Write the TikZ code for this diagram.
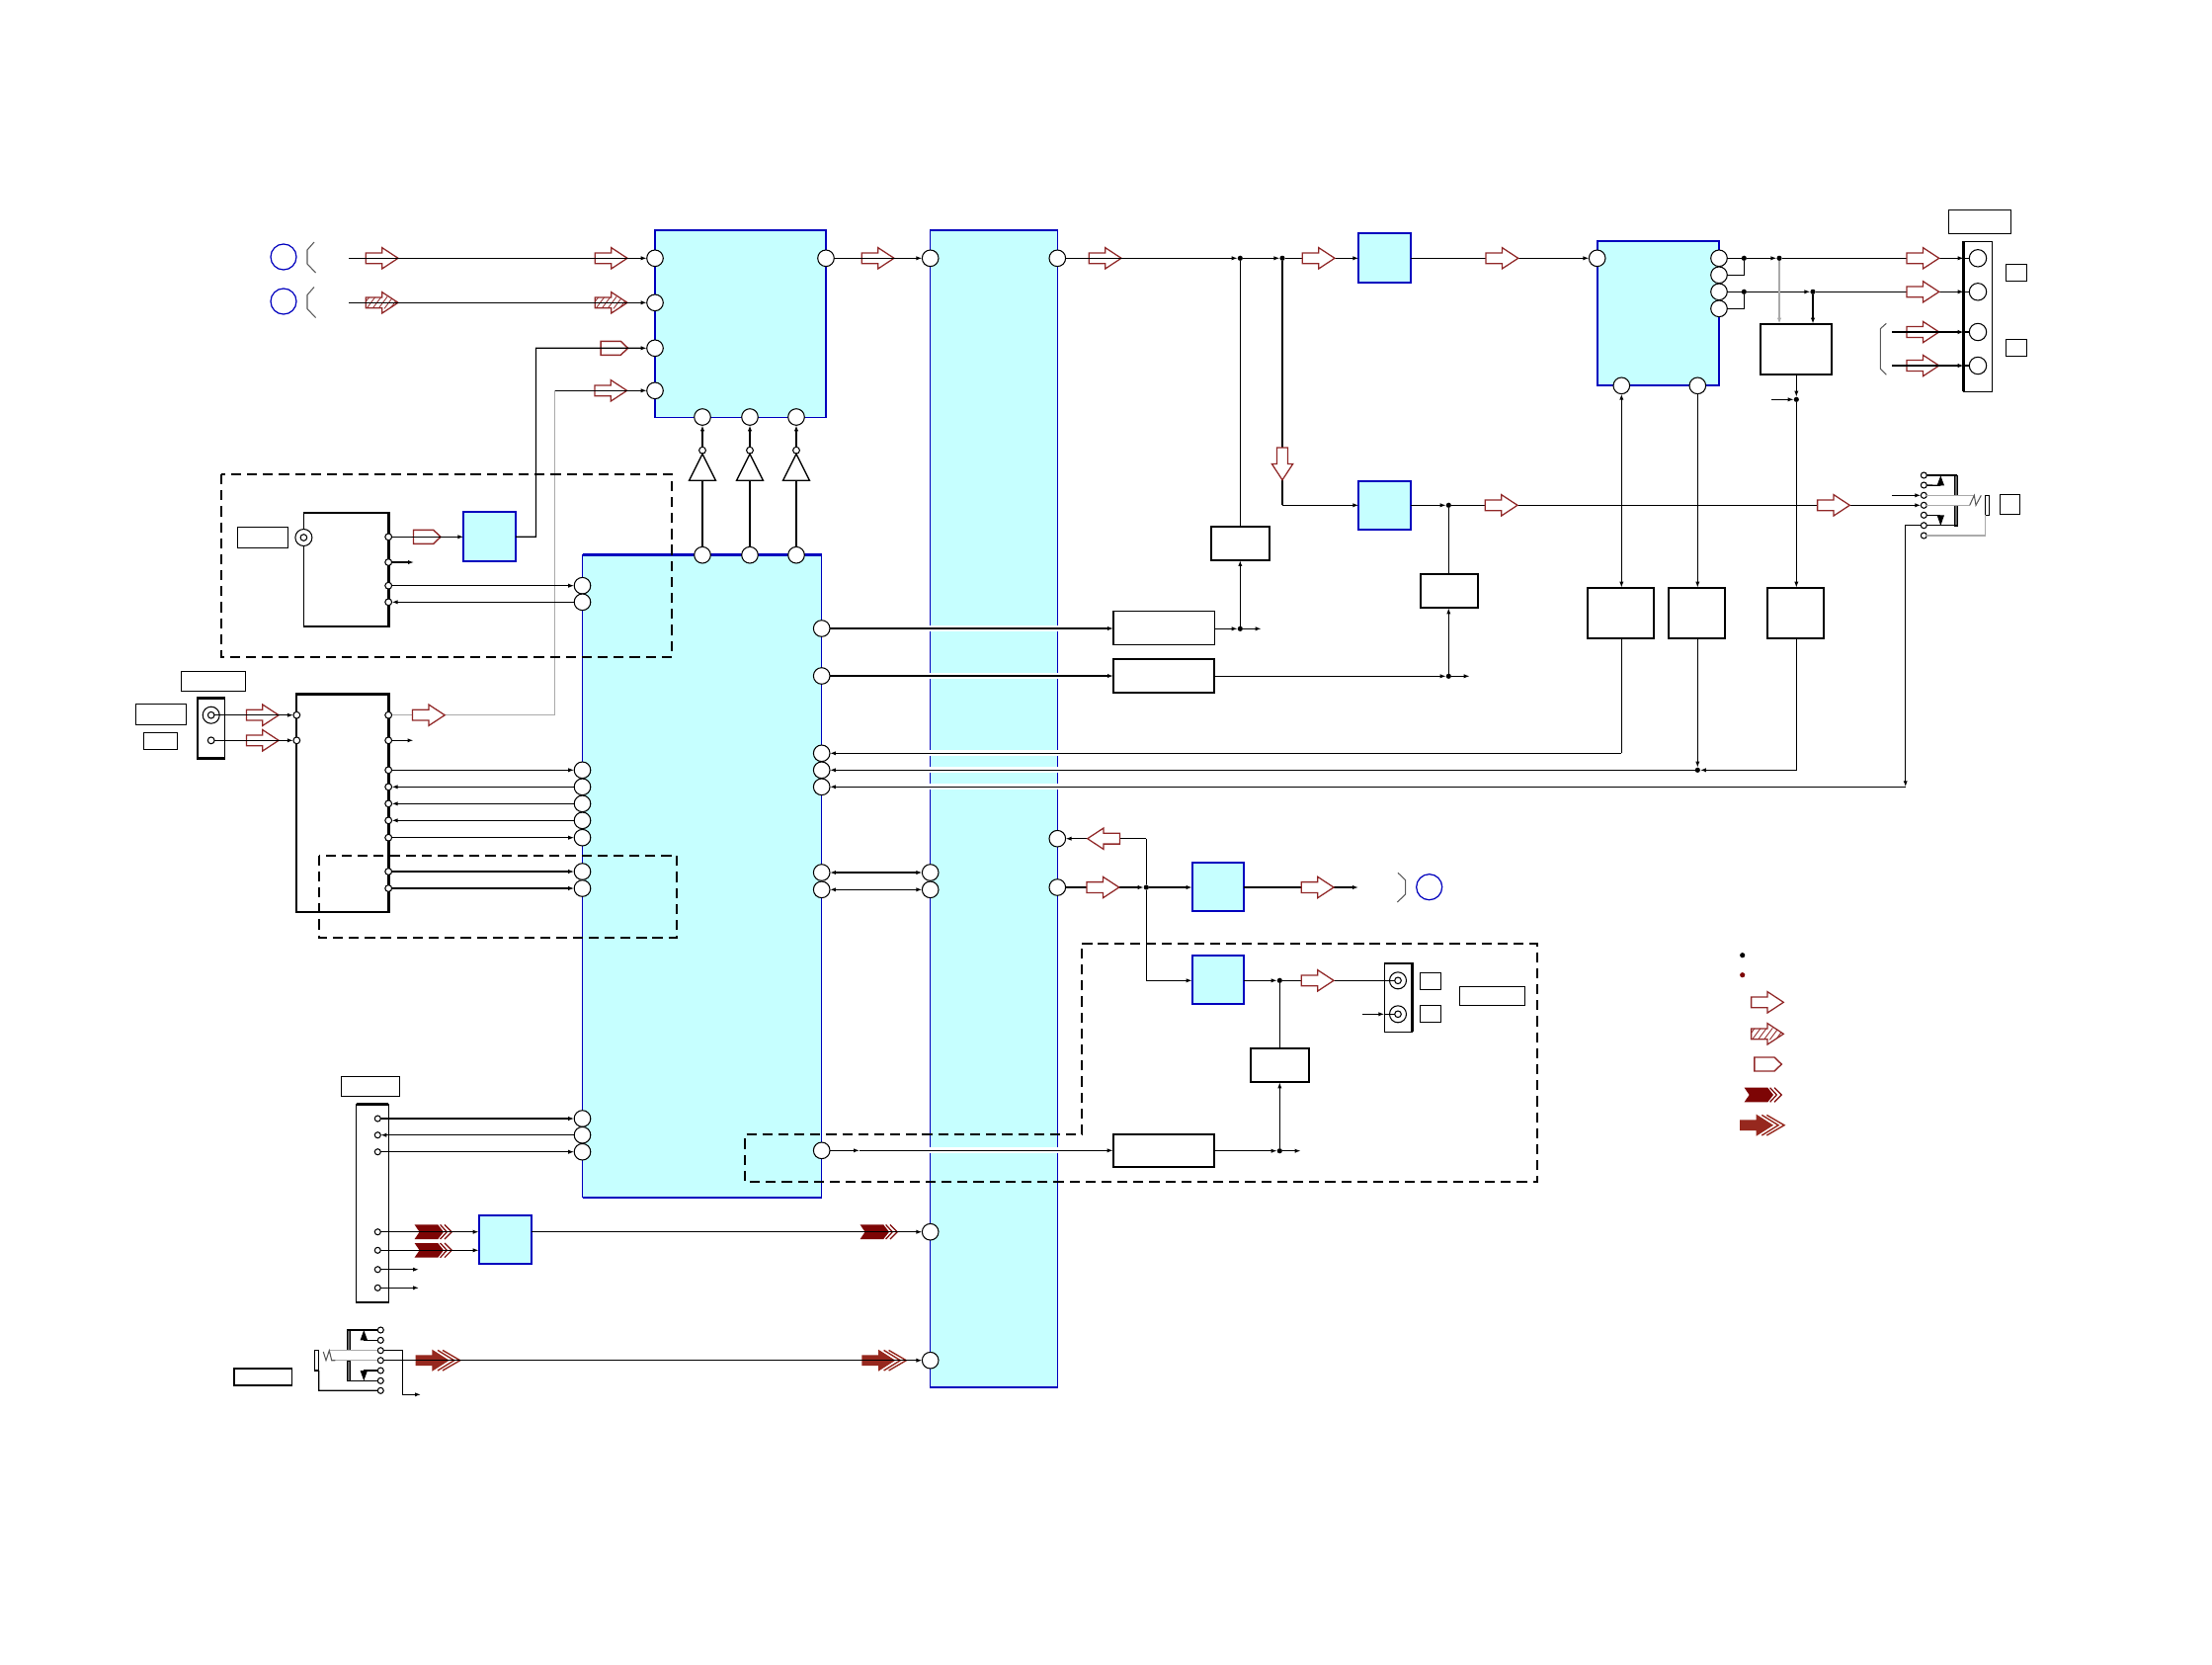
\documentclass[tikz,border=0pt]{standalone}
\usetikzlibrary{arrows.meta,calc}
\definecolor{iccyan}{RGB}{198,255,255}
\definecolor{icblue}{RGB}{0,0,190}
\definecolor{arrred}{RGB}{145,40,40}
\definecolor{chevred}{RGB}{125,5,5}
\definecolor{bigred}{RGB}{150,40,30}
\definecolor{wgray}{RGB}{170,170,170}
\newcommand{\rbox}[6]{%
  \pgfmathsetmacro\rbcx{(#2+#4)/2}\pgfmathsetmacro\rbcy{(#3+#5)/2}%
  \pgfmathsetmacro\rbw{(#4-#2)*0.01}\pgfmathsetmacro\rbh{(#5-#3)*0.01}%
  \node[#6,minimum width=\rbw cm,minimum height=\rbh cm,inner sep=0pt,outer sep=0pt] (#1) at (\rbcx,\rbcy) {};}
\tikzset{
  icbox/.style={rectangle,draw=icblue,fill=iccyan,line width=.4pt},
  bluebox/.style={rectangle,draw=icblue,fill=iccyan,line width=.55pt},
  blk/.style={rectangle,draw=black,fill=white,line width=.6pt},
  labelbox/.style={rectangle,draw=black,fill=white,line width=.35pt},
  connbox/.style={rectangle,draw=black,fill=white,line width=.35pt},
  heavy/.style={draw=black,line width=.75pt},
  heavyblue/.style={draw=icblue,line width=.7pt},
  icpin/.style={circle,draw=black,fill=white,line width=.3pt,minimum size=.166cm,inner sep=0pt,outer sep=0pt},
  tinypin/.style={circle,draw=black,fill=white,line width=.3pt,minimum size=.068cm,inner sep=0pt,outer sep=0pt},
  jackpin/.style={circle,draw=black,fill=white,line width=.3pt,minimum size=.06cm,inner sep=0pt,outer sep=0pt},
  bigpin/.style={circle,draw=black,fill=white,line width=.3pt,minimum size=.174cm,inner sep=0pt,outer sep=0pt},
  jdot/.style={circle,fill=black,minimum size=.052cm,inner sep=0pt,outer sep=0pt},
  bluering/.style={circle,draw=icblue,line width=.35pt,minimum size=.26cm,inner sep=0pt},
  ringouter/.style={circle,draw=black,fill=white,line width=.3pt,minimum size=.17cm,inner sep=0pt,outer sep=0pt},
  ringinner/.style={circle,draw=black,fill=white,line width=.3pt,minimum size=.066cm,inner sep=0pt,outer sep=0pt},
  wire/.style={draw=black,line width=.38pt},
  sig/.style={wire,-{Latex[length=1.7pt,width=1.2pt]}},
  sigboth/.style={wire,{Latex[length=1.7pt,width=1.2pt]}-{Latex[length=1.7pt,width=1.2pt]}},
  graywire/.style={draw=wgray,line width=.38pt},
  brk/.style={draw=black!65,line width=.3pt},
  dashbox/.style={draw=black,line width=.6pt,dash pattern=on 2.9pt off 1.7pt},
  pics/hollow/.style={code={
    \draw[arrred,fill=white,line width=.36pt] (-32.7,-5.4)--(-16.3,-5.4)--(-16.3,-10.7)--(0,0)--(-16.3,10.7)--(-16.3,5.4)--(-32.7,5.4)--cycle;}},
  pics/hatched/.style={code={
    \draw[arrred,fill=white,line width=.36pt] (-32.7,-5.4)--(-16.3,-5.4)--(-16.3,-10.7)--(0,0)--(-16.3,10.7)--(-16.3,5.4)--(-32.7,5.4)--cycle;
    \begin{scope}
      \clip (-32.7,-5.4)--(-16.3,-5.4)--(-16.3,-10.7)--(0,0)--(-16.3,10.7)--(-16.3,5.4)--(-32.7,5.4)--cycle;
      \foreach \k in {-38,-32,-26,-20,-14,-8}
        \draw[arrred,line width=.25pt] (\k,6)--(\k+9,-6);
    \end{scope}}},
  pics/pent/.style={code={
    \draw[arrred,fill=white,line width=.4pt] (-27.5,-7)--(-7.3,-7)--(0,0)--(-7.3,7)--(-27.5,7)--cycle;}},
  pics/chev/.style={code={
    \fill[chevred] (-37.7,-7.3)--(-14,-7.3)--(-8.3,0)--(-14,7.3)--(-37.7,7.3)--(-32.7,0)--cycle;
    \draw[chevred,line width=.35pt] (-11.7,-7.3)--(-5,0)--(-11.7,7.3) (-7.3,-7.3)--(0,0)--(-7.3,7.3);}},
  pics/bigarr/.style={code={
    \fill[bigred] (-45,-5.3)--(-28.3,-5.3)--(-28.3,-11)--(-11,0)--(-28.3,11)--(-28.3,5.3)--(-45,5.3)--cycle;
    \draw[bigred,line width=.4pt] (-22.7,-10.3)--(-6,0)--(-22.7,10.3) (-17.7,-10.3)--(0,0)--(-17.7,10.3);}}
}
\begin{document}
\begin{tikzpicture}[x=0.01cm,y=-0.01cm]
\useasboundingbox (0,0) rectangle (2239,1684);
\fill[white] (0,0) rectangle (2239,1684);

% large ICs
\rbox{icA}{663}{233}{836}{422.3}{icbox}
\rbox{icB}{589.5}{561.7}{831.7}{1211.7}{icbox}
\rbox{icC}{941.7}{233}{1070.3}{1404}{icbox}
\rbox{icD}{1616.7}{244}{1740.3}{390.3}{bluebox}
\draw[heavyblue] (icB.north west)--(icB.north east);
\draw[heavyblue] (icB.south west)--(icB.south east);
\draw[heavyblue] (icC.south west)--(icC.south east);
\draw[heavyblue] (icA.north west)--(icA.south west);
% white bands across icC
\foreach \y in {636,684,762.3,779.3,796.3,1164.3}
  \fill[white] (940,\y-3) rectangle (1072,\y+3);

% small blue boxes
\rbox{bbA}{469.3}{518.3}{522}{568}{bluebox}
\rbox{bbB}{1375.3}{235.7}{1428.3}{286}{bluebox}
\rbox{bbC}{1375.3}{486.7}{1428.3}{536}{bluebox}
\rbox{bbD}{1206.7}{872.7}{1259.3}{922.3}{bluebox}
\rbox{bbE}{1206.7}{966.7}{1259.3}{1016.3}{bluebox}
\rbox{bbF}{484.7}{1229.7}{538.3}{1279.3}{bluebox}

% white blocks
\rbox{wA}{1225.7}{533}{1285.3}{567}{blk}
\rbox{wB}{1127}{618.3}{1229.3}{652.3}{labelbox}
\rbox{wC}{1127}{666.7}{1229.3}{701}{blk}
\rbox{wD}{1437.7}{580.7}{1496.3}{615.3}{blk}
\rbox{wE}{1782}{327.7}{1854}{379}{blk}
\rbox{wF}{1606.7}{594.7}{1674.3}{646}{blk}
\rbox{wG}{1689}{594.7}{1746.3}{646}{blk}
\rbox{wH}{1789}{594.7}{1846.3}{646}{blk}
\rbox{wI}{1265.7}{1061.3}{1325.3}{1095.3}{blk}
\rbox{wJ}{1126.7}{1147.7}{1229.3}{1181.3}{blk}

% modules and connectors
\rbox{modA}{307.4}{519}{393.2}{634}{connbox}
\draw[heavy] (modA.north west)--(modA.north east)--(modA.south east)--(modA.south west);
\rbox{modB}{300}{702.7}{393.2}{923}{blk}
\draw[heavy] (modB.north west) rectangle (modB.south east);
\rbox{cnA}{199.9}{706.7}{227.5}{767.3}{connbox}
\draw[heavy] (cnA.north east)--(cnA.north west)--(cnA.south west)--(cnA.south east);
\rbox{cnB}{360.7}{1117.7}{393.3}{1318}{connbox}
\draw[line width=.45pt] (cnB.north west) rectangle (cnB.south east);
\draw[heavy] (cnB.north west)--(cnB.north east) (cnB.south west)--(cnB.south east);
\rbox{cnC}{1987.7}{244.3}{2016.3}{396.3}{connbox}
\draw[heavy] (cnC.north west)--(cnC.south west);
\rbox{cnD}{1401.3}{975}{1429.3}{1044.3}{connbox}
\draw[heavy] (cnD.north west)--(cnD.north east)--(cnD.south east);

% label boxes
\rbox{lA}{240.5}{533.3}{291.4}{554.3}{labelbox}
\rbox{lB}{183.3}{679.3}{248.5}{699.3}{labelbox}
\rbox{lC}{137.4}{712.3}{188.4}{733.3}{labelbox}
\rbox{lD}{145.3}{741.3}{179.7}{758.7}{labelbox}
\rbox{lE}{345.3}{1089.3}{404.3}{1109.3}{labelbox}
\rbox{lF}{237}{1385}{295.6}{1402}{labelbox}
\rbox{lG}{1972.7}{212.7}{2035.3}{236.3}{labelbox}
\rbox{lH}{2030.3}{267.3}{2051.7}{284.3}{labelbox}
\rbox{lI}{2030.3}{343.3}{2051.7}{360.3}{labelbox}
\rbox{lJ}{2024.3}{500.3}{2044.3}{520.3}{labelbox}
\rbox{lK}{1437.3}{984.3}{1458.3}{1001.7}{labelbox}
\rbox{lL}{1437.3}{1017.3}{1458.3}{1034.3}{labelbox}
\rbox{lM}{1477.3}{998.3}{1543.3}{1017.3}{labelbox}

% IC pins
\foreach \n/\x/\y in {a1/663/261.3,a2/663/306.3,a3/663/352.3,a4/663/395.3,a5/836/261.3,a6/711/422,a7/759/422,a8/806/422,
  bt1/711/561.7,bt2/759/561.7,bt3/806/561.7,
  bl1/589.5/592.7,bl2/589.5/609.3,bl3/589.5/779.3,bl4/589.5/796.3,bl5/589.5/813.3,bl6/589.5/830.3,bl7/589.5/847.7,bl8/589.5/882,bl9/589.5/899,
  bl10/589.5/1132,bl11/589.5/1148.7,bl12/589.5/1165.7,
  br1/831.7/636,br2/831.7/684,br3/831.7/762.3,br4/831.7/779.3,br5/831.7/796.3,br6/831.7/883,br7/831.7/900.3,br8/831.7/1164.3,
  cl1/941.7/261.3,cl2/941.7/883,cl3/941.7/900.3,cl4/941.7/1246.7,cl5/941.7/1376.7,
  cr1/1070.3/261.3,cr2/1070.3/848.7,cr3/1070.3/898,
  dl/1616.7/261.3,dr1/1740/261.3,dr2/1740/278.3,dr3/1740/295.3,dr4/1740/312.3,db1/1641.3/390.3,db2/1718.3/390.3}
  \node[icpin] (\n) at (\x,\y) {};
\foreach \n/\x/\y in {c1/2002/261.3,c2/2002/295.3,c3/2002/336,c4/2002/370}
  \node[bigpin] (\n) at (\x,\y) {};
% tiny pins on modules
\foreach \n/\x/\y in {ma1/393.2/543.3,ma2/393.2/569,ma3/393.2/592.7,ma4/393.2/609.3,
  mi1/300.3/723.7,mi2/300.3/749.3,
  mb1/393.2/723.7,mb2/393.2/749.3,mb3/393.2/779.3,mb4/393.2/796.3,mb5/393.2/813.3,mb6/393.2/830.3,mb7/393.2/847.7,mb8/393.2/882,mb9/393.2/899,
  ca2/213.7/749.3,tr1/711/455.7,tr2/759/455.7,tr3/806/455.7}
  \node[tinypin] (\n) at (\x,\y) {};
\foreach \n/\x/\y in {cb1/382.3/1132,cb2/382.3/1148.7,cb3/382.3/1165.7,cb4/382.3/1246.7,cb5/382.3/1265.3,cb6/382.3/1284.7,cb7/382.3/1303.3,
  jl1/385.3/1346,jl2/385.3/1356.3,jl3/385.3/1366.7,jl4/385.3/1376.7,jl5/385.3/1387,jl6/385.3/1397.3,jl7/385.3/1407.3,
  jr1/1947.3/481,jr2/1947.3/491,jr3/1947.3/501.3,jr4/1947.3/511.3,jr5/1947.3/521.3,jr6/1947.3/531.7,jr7/1947.3/542}
  \node[jackpin] (\n) at (\x,\y) {};
% round sockets
\foreach \n/\x/\y in {sa/307.4/544,sb/213.7/723.7,sc/1415/992.3,sd/1415/1026.3}{
  \node[ringouter] (\n) at (\x,\y) {};
  \node[ringinner] (\n i) at (\x,\y) {};}
% junction dots
\foreach \n/\x/\y in {dA/1255.3/261.3,dB/1298/261.3,dC/1255.3/636.3,dD/1466.3/511.3,dE/1466.3/684.3,dF/1765.3/261.3,dG/1765.3/295.3,dH/1801/261.3,dI/1835/295.3,dJ/1818.3/404.3,
  dK/1718.3/779.3,dL/1160.3/898,dM/1295.3/992.3,dN/1295.3/1164.7,legA/1763.7/966.7}
  \node[jdot] (\n) at (\x,\y) {};
\node[jdot,fill=chevred] (legB) at (1763.7,986.7) {};
% blue rings
\node[bluering] (ringA) at (287,260) {};
\node[bluering] (ringB) at (287,305) {};
\node[bluering] (ringC) at (1446.7,897.7) {};
% brackets
\draw[brk] (318,245)--(311,253)--(311,267)--(319.5,276);
\draw[brk] (318,290.5)--(311,298.5)--(311,312.5)--(319.5,321.5);
\draw[brk] (1909.3,327.3)--(1903.3,332.7)--(1903.3,373.3)--(1909.3,379.3);
\draw[brk] (1415,883.3)--(1422.7,890.7)--(1422.7,905)--(1414.3,913);
% inverters
\foreach \x in {711,759,806}
  \draw[black,fill=white,line width=.38pt] (\x-13.5,486.3)--(\x,459.3)--(\x+13.5,486.3)--cycle;

% arrows under the wires
\pic at (403,261.3) {hollow};
\pic at (635,261.3) {hollow};
\pic at (403,306.3) {hatched};
\pic at (635,306.3) {hatched};
\pic at (635.6,352.3) {pent};
\pic at (634.6,395.3) {hollow};
\pic at (446,543.3) {pent};
\pic at (282.1,723.7) {hollow};
\pic at (282.1,749.3) {hollow};
\pic at (905,261.3) {hollow};
\pic at (1135,261.3) {hollow};
\pic at (1962.7,336) {hollow};
\pic at (1962.7,370) {hollow};
\pic at (457.3,1246.7) {chev};
\pic at (457.3,1265.3) {chev};
\pic at (908.3,1246.7) {chev};
\pic at (465.7,1376.7) {bigarr};
\pic at (917.3,1376.7) {bigarr};

% free ends
\coordinate (inA) at (353,261.3);
\coordinate (inB) at (353,306.3);
\coordinate (inC) at (1915,336);
\coordinate (inD) at (1915,370);
\coordinate (inE) at (1793,404.3);
\coordinate (inF) at (1915,501.3);
\coordinate (inG) at (1379,1026.3);
\coordinate (outA) at (419,569);
\coordinate (outB) at (418.5,749.3);
\coordinate (outC) at (424,1284.7);
\coordinate (outD) at (424,1303.3);
\coordinate (outE) at (1276.7,636.3);
\coordinate (outF) at (1487.7,684.3);
\coordinate (outG) at (1375,898);
\coordinate (outH) at (1316.7,1164.7);
\coordinate (outI) at (426,1411.3);
\coordinate (cnr) at (1928.7,796.3);
\coordinate (mid) at (870,1164.3);

% left section
\draw[sig] (inA)--(a1);
\draw[sig] (inB)--(a2);
\draw[sig] (bbA.east) -- (542.5,543.3) -- (542.5,352.3) -- (a3);
\coordinate (gbend) at (561.4,395.3);
\draw[sig] (gbend)--(a4);
\draw[graywire] (mb1)--(561.4,723.7)--(gbend);
\draw[sig] (tr1)--(a6);
\draw[sig] (tr2)--(a7);
\draw[sig] (tr3)--(a8);
\foreach \x/\n in {711/bt1,759/bt2,806/bt3}
  \draw[wire] (\n)--(\x,486.3);
\draw[sig] (a5)--(cl1);
\draw[sig] (ma1)--(bbA.west |- ma1);
\draw[sig] (ma2)--(outA);
\draw[sig] (ma3)--(bl1);
\draw[sig] (bl2)--(ma4);
\draw[sig] (sbi)--(mi1);
\draw[sig] (ca2)--(mi2);
\draw[sig] (mb2)--(outB);
\draw[sig] (mb3)--(bl3);
\draw[sig] (bl4)--(mb4);
\draw[sig] (bl5)--(mb5);
\draw[sig] (bl6)--(mb6);
\draw[sig] (mb7)--(bl7);
\draw[sig] (mb8)--(bl8);
\draw[sig] (mb9)--(bl9);
\draw[sig] (cb1)--(bl10);
\draw[sig] (bl11)--(cb2);
\draw[sig] (cb3)--(bl12);
\draw[sig] (cb4)--(bbF.west |- cb4);
\draw[sig] (cb5)--(bbF.west |- cb5);
\draw[sig] (cb6)--(outC);
\draw[sig] (cb7)--(outD);
\draw[wire] (bbF.east |- cl4)--(800,1246.7);
\draw[sig] (800,1246.7)--(cl4);

% left jack
\fill[black!60] (351.3,1346.3) rectangle (354.7,1366.3);
\fill[black!60] (351.3,1377) rectangle (354.7,1397.3);
\draw[line width=.3pt] (351.3,1346.3) rectangle (354.7,1366.3);
\draw[line width=.3pt] (351.3,1377) rectangle (354.7,1397.3);
\draw[wire] (jl1)--(351.3,1346);
\draw[wire] (jl2)--(368.3,1356.3);
\fill[black] (364.6,1356.3)--(368.3,1346)--(372,1356.3)--cycle;
\draw[wire] (jl5)--(368.3,1387);
\fill[black] (364.6,1387)--(368.3,1397.3)--(372,1387)--cycle;
\draw[wire] (jl6)--(351.3,1397.3);
\draw[graywire] (jl3)--(333.3,1366.7);
\draw[graywire] (jl4)--(339.3,1376.7);
\draw[brk] (327.3,1368)--(330,1376.7)--(333.3,1366.7)--(335.7,1376.7)--(339.3,1376.7);
\rbox{rodL}{318.7}{1366.7}{322.7}{1387}{labelbox}
\draw[wire] (rodL.south east)--(322.7,1407.3)--(jl7);
\draw[sig] (jl3)--(407.3,1366.7)--(407.3,1411.3)--(outI);
\draw[sig] (jl4)--(cl5);

% middle rows
\draw[sig] (br1)--(wB.west |- br1);
\draw[sig] (br2)--(wC.west |- br2);
\draw[sig] (1160.3,848.7) -- (cr2);
\draw[wire] (dL)--(1160.3,848.7);
\draw[wire] (dL)--(1160.3,992.3);
\draw[sig] (1160.3,992.3)--(bbE.west |- 0,992.3);
\draw[sigboth] (br6)--(cl2);
\draw[sigboth] (br7)--(cl3);
\draw[sig] (br8)--(mid);
\draw[sig] (mid)--(wJ.west |- br8);

% top row to the right
\draw[sig] (cr1)--(dA);
\draw[sig] (dA)--(dB);
\draw[sig] (dB)--(bbB.west |- dB);
\draw[sig] (bbB.east |- dl)--(dl);
\draw[wire] (dA)--(wA.north -| dA);
\draw[sig] (dC)--(wA.south -| dC);
\draw[sig] (wB.east |- dC)--(dC);
\draw[sig] (dC)--(outE);
\draw[wire] (dB)--(1298,511.3);
\draw[sig] (1298,511.3)--(bbC.west |- dD);
\draw[sig] (bbC.east |- dD)--(dD);
\draw[sig] (dD)--(jr4);
\draw[wire] (wD.north -| dD)--(dD);
\draw[sig] (dE)--(wD.south -| dE);
\draw[sig] (wC.east |- dE)--(dE);
\draw[sig] (dE)--(outF);

% right IC outputs
\draw[wire] (dr1)--(dF);
\draw[wire] (dr3)--(dG);
\draw[wire] (dr2)-|(dF);
\draw[wire] (dr4)-|(dG);
\draw[sig] (dF)--(dH);
\draw[sig] (dG)--(dI);
\draw[sig] (dH)--(cnC.west |- dH);
\draw[wire] (cnC.west |- c1)--(c1);
\draw[sig] (dI)--(cnC.west |- dI);
\draw[wire] (cnC.west |- c2)--(c2);
\draw[sig] (inC)--(cnC.west |- inC);
\draw[wire] (cnC.west |- c3)--(c3);
\draw[sig] (inD)--(cnC.west |- inD);
\draw[wire] (cnC.west |- c4)--(c4);
\draw[-{Latex[length=1.7pt,width=1.2pt]},draw=wgray,line width=.38pt] (dH)--(wE.north -| dH);
\draw[sig] (dI)--(wE.north -| dI);
\draw[sig] (wE.south -| dJ)--(dJ);
\draw[sig] (inE)--(dJ);
\draw[sig] (dJ)--(wH.north -| dJ);
\draw[sigboth] (db1)--(wF.north -| db1);
\draw[sig] (db2)--(wG.north -| db2);
\draw[wire] (wF.south -| db1)--(1641.3,762.3);
\draw[sig] (1641.3,762.3)--(br3);
\draw[sig] (wG.south -| dK)--(dK);
\draw[sig] (wH.south -| dJ)--(1818.3,779.3)--(dK);
\draw[sig] (dK)--(br4);
\draw[sig] (jr6)-|(cnr);
\draw[sig] (cnr)--(br5);

% right jack
\fill[black!60] (1978.3,481.3) rectangle (1981.3,501.3);
\fill[black!60] (1978.3,511.3) rectangle (1981.3,532);
\draw[line width=.3pt] (1978.3,481.3) rectangle (1981.3,501.3);
\draw[line width=.3pt] (1978.3,511.3) rectangle (1981.3,532);
\draw[wire] (jr1)--(1981.3,481);
\draw[wire] (jr2)--(1964.3,491.3);
\fill[black] (1960.6,491.3)--(1964.3,481.3)--(1968,491.3)--cycle;
\draw[wire] (jr5)--(1964.3,521.3);
\fill[black] (1960.6,521.3)--(1964.3,532)--(1968,521.3)--cycle;
\draw[wire] (jr6)--(1981.3,531.7);
\draw[sig] (inF)--(jr3);
\draw[graywire] (jr3)--(1998.3,501.3);
\draw[graywire] (jr4)--(1993.7,511.3);
\draw[brk] (1993.7,511.3)--(1998.3,501.3)--(2000,511.3)--(2005.3,501.3);
\rbox{rodR}{2009.7}{501.3}{2013.3}{521.3}{labelbox}
\draw[graywire] (jr7)--(2009.7,542)--(rodR.south west);

% lower right
\draw[sig] (cr3)--(dL);
\draw[sig] (dL)--(bbD.west |- dL);
\draw[sig] (bbD.east |- outG)--(outG);
\draw[sig] (bbE.east |- dM)--(dM);
\draw[wire] (dM)--(sci);
\draw[sig] (inG)--(cnD.west |- inG);
\draw[wire] (cnD.west |- sd)--(sdi);
\draw[wire] (dM)--(wI.north -| dM);
\draw[sig] (dN)--(wI.south -| dN);
\draw[sig] (wJ.east |- dN)--(dN);
\draw[sig] (dN)--(outH);

% arrows over the wires
\pic at (450.2,723.7) {hollow};
\pic at (1351,261.3) {hollow};
\pic at (1536.7,261.3) {hollow};
\pic at (1536,511.3) {hollow};
\pic at (1962.7,261.3) {hollow};
\pic at (1962.7,295.3) {hollow};
\pic at (1872.3,511.3) {hollow};
\pic[rotate=180] at (1100.7,848.7) {hollow};
\pic at (1132.7,898) {hollow};
\pic at (1350,898) {hollow};
\pic at (1350,992.3) {hollow};
\pic[rotate=-90] at (1298,485.7) {hollow};
% legend
\pic at (1805.3,1014.3) {hollow};
\pic at (1805.3,1046.3) {hatched};
\pic at (1803.3,1077) {pent};
\pic at (1803.3,1108) {chev};
\pic at (1806,1138.7) {bigarr};

% dashed enclosures
\draw[dashbox] (223.6,480) rectangle (680,664.7);
\draw[dashbox] (323.2,865.7) rectangle (685,949);
\draw[dashbox] (1095.3,955.3)--(1556,955.3)--(1556,1196)--(754,1196)--(754,1148)--(1095.3,1148)--cycle;
\end{tikzpicture}
\end{document}
